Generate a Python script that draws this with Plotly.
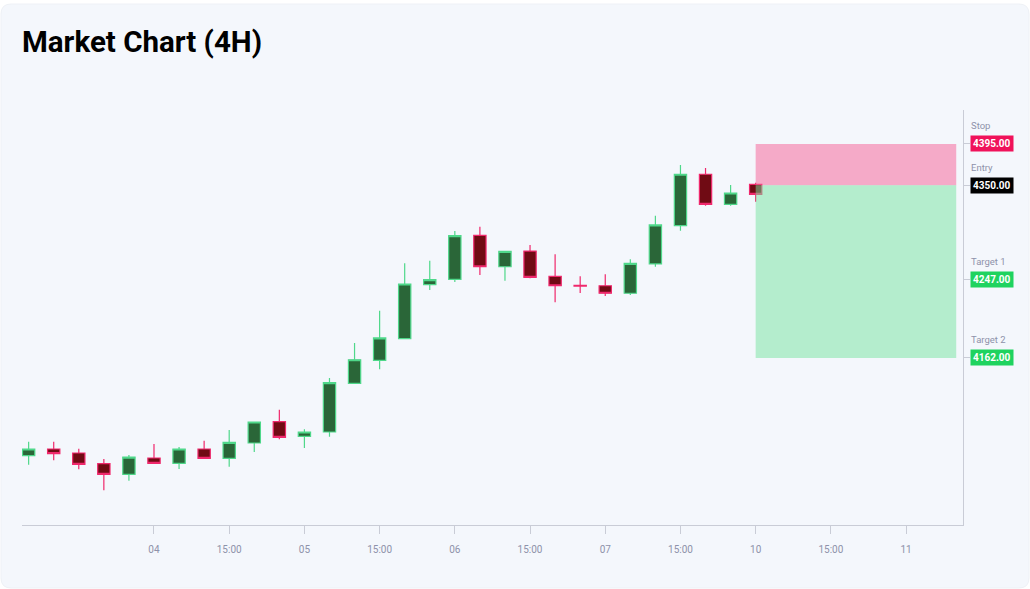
import plotly.graph_objects as go

# 4H candles
opens = [4055.5, 4062.8, 4058.4, 4046.8, 4035.2, 4053.0, 4047.2, 4062.8, 4052.6, 4069.3,
         4092.5, 4076.6, 4081.3, 4134.3, 4159.4, 4182.9, 4241.7, 4247.6, 4295.5, 4261.3,
         4278.4, 4250.9, 4241.0, 4240.6, 4232.4, 4264.3, 4306.0, 4362.0, 4329.3, 4351.1]
highs = [4070.7, 4070.7, 4063.1, 4051.9, 4056.2, 4068.2, 4065.0, 4071.8, 4083.5, 4092.2,
         4105.6, 4084.2, 4140.1, 4178.2, 4213.4, 4265.0, 4267.9, 4300.2, 4304.9, 4278.8,
         4285.0, 4274.8, 4250.9, 4253.1, 4269.4, 4316.9, 4372.1, 4368.9, 4350.3, 4352.8]
lows = [4045.7, 4050.5, 4040.7, 4017.8, 4028.2, 4047.2, 4041.0, 4052.6, 4043.5, 4059.5,
        4073.3, 4063.9, 4076.2, 4133.6, 4149.6, 4182.9, 4236.0, 4244.7, 4252.3, 4246.1,
        4248.7, 4222.6, 4232.7, 4229.4, 4230.5, 4261.3, 4300.6, 4327.8, 4327.8, 4332.1]
closes = [4062.8, 4057.7, 4046.1, 4035.2, 4054.0, 4047.2, 4062.8, 4052.6, 4070.0, 4092.2,
          4075.5, 4081.3, 4135.0, 4160.0, 4183.7, 4242.5, 4247.2, 4295.1, 4261.3, 4278.1,
          4249.8, 4240.6, 4240.2, 4232.4, 4265.0, 4306.8, 4362.0, 4329.3, 4341.6, 4340.2]

# x-axis ticks (bar index -> label), the weekend is skipped
tick_pos = [5, 8, 11, 14, 17, 20, 23, 26, 29, 32, 35]
tick_text = ["04", "15:00", "05", "15:00", "06", "15:00", "07", "15:00", "10", "15:00", "11"]

# trade plan levels
level_names = ["Stop", "Entry", "Target 1", "Target 2"]
level_prices = [4395.00, 4350.00, 4247.00, 4162.00]
level_colors = ["#f0125a", "#000000", "#1fd35f", "#1fd35f"]
zone_start, zone_end = 29, 37

bg = "#f4f7fc"
grey = "#8e92aa"

fig = go.Figure()

fig.add_trace(go.Candlestick(
    x=list(range(len(opens))), open=opens, high=highs, low=lows, close=closes,
    increasing=dict(line=dict(color="#4fd88a", width=1.2), fillcolor="#2a6638"),
    decreasing=dict(line=dict(color="#f0286c", width=1.2), fillcolor="#700b14"),
    hoverinfo="skip", showlegend=False,
))

# risk / reward zones
stop, entry = level_prices[0], level_prices[1]
fig.add_shape(type="rect", x0=zone_start, x1=zone_end, y0=entry, y1=stop,
              fillcolor="#f65d94", opacity=0.5, line_width=0, layer="above")
fig.add_shape(type="rect", x0=zone_start, x1=zone_end, y0=level_prices[-1], y1=entry,
              fillcolor="#74e39e", opacity=0.5, line_width=0, layer="above")

# card background with rounded corners
l, r, t, b = 22, 67, 110, 64
W, H = 1030, 589
pw, ph = W - l - r, H - t - b
def px(x):
    return (x - l) / pw
def py(y):
    return 1 - (y - t) / ph
x0, x1, y0, y1, rad = 1, 1029, 4, 588, 10
path = (f"M {px(x0 + rad)},{py(y0)} L {px(x1 - rad)},{py(y0)} "
        f"Q {px(x1)},{py(y0)} {px(x1)},{py(y0 + rad)} L {px(x1)},{py(y1 - rad)} "
        f"Q {px(x1)},{py(y1)} {px(x1 - rad)},{py(y1)} L {px(x0 + rad)},{py(y1)} "
        f"Q {px(x0)},{py(y1)} {px(x0)},{py(y1 - rad)} L {px(x0)},{py(y0 + rad)} "
        f"Q {px(x0)},{py(y0)} {px(x0 + rad)},{py(y0)} Z")
fig.add_shape(type="path", path=path, xref="paper", yref="paper",
              fillcolor=bg, line=dict(color="#eef1f6", width=1), layer="below")

# level badges on the right axis
for name, price, col in zip(level_names, level_prices, level_colors):
    fig.add_annotation(x=1, xref="x domain", y=price, yref="y", xanchor="left",
                       xshift=7, text=f"<b>{price:.2f}</b>", showarrow=False,
                       bgcolor=col, borderpad=2,
                       font=dict(family="Roboto", size=10, color="white"))
    fig.add_annotation(x=1, xref="x domain", y=price, yref="y", xanchor="left",
                       xshift=6, yshift=18, text=name, showarrow=False,
                       font=dict(family="Roboto", size=9.5, color=grey))

fig.update_layout(
    width=W, height=H,
    margin=dict(l=l, r=r, t=t, b=b),
    paper_bgcolor="white", plot_bgcolor="rgba(0,0,0,0)",
    title=dict(text="<b>Market Chart (4H)</b>", x=22 / W, xanchor="left",
               xref="container", y=1 - 42 / H, yanchor="middle", yref="container",
               font=dict(family="Roboto", size=29.5, color="black")),
    font=dict(family="Roboto", color=grey),
    xaxis=dict(range=[-0.265, 37.27], tickvals=tick_pos, ticktext=tick_text,
               showgrid=False, zeroline=False, showline=True, linecolor="#c9ccd6",
               linewidth=1, ticks="outside", ticklen=8, tickcolor="#c9ccd6",
               ticklabelstandoff=7,
               tickfont=dict(size=10, color=grey), rangeslider=dict(visible=False)),
    yaxis=dict(range=[3980, 4432], side="right", tickvals=level_prices,
               showticklabels=False, showgrid=False, zeroline=False, showline=True,
               linecolor="#c9ccd6", linewidth=1, ticks="outside", ticklen=6,
               tickcolor="#c9ccd6"),
)

# page body has an 8px default margin; drop it so the figure sits at 0,0
fig.write_html("out.html", config={"displayModeBar": False},
               post_script="document.body.style.margin = '0';")
